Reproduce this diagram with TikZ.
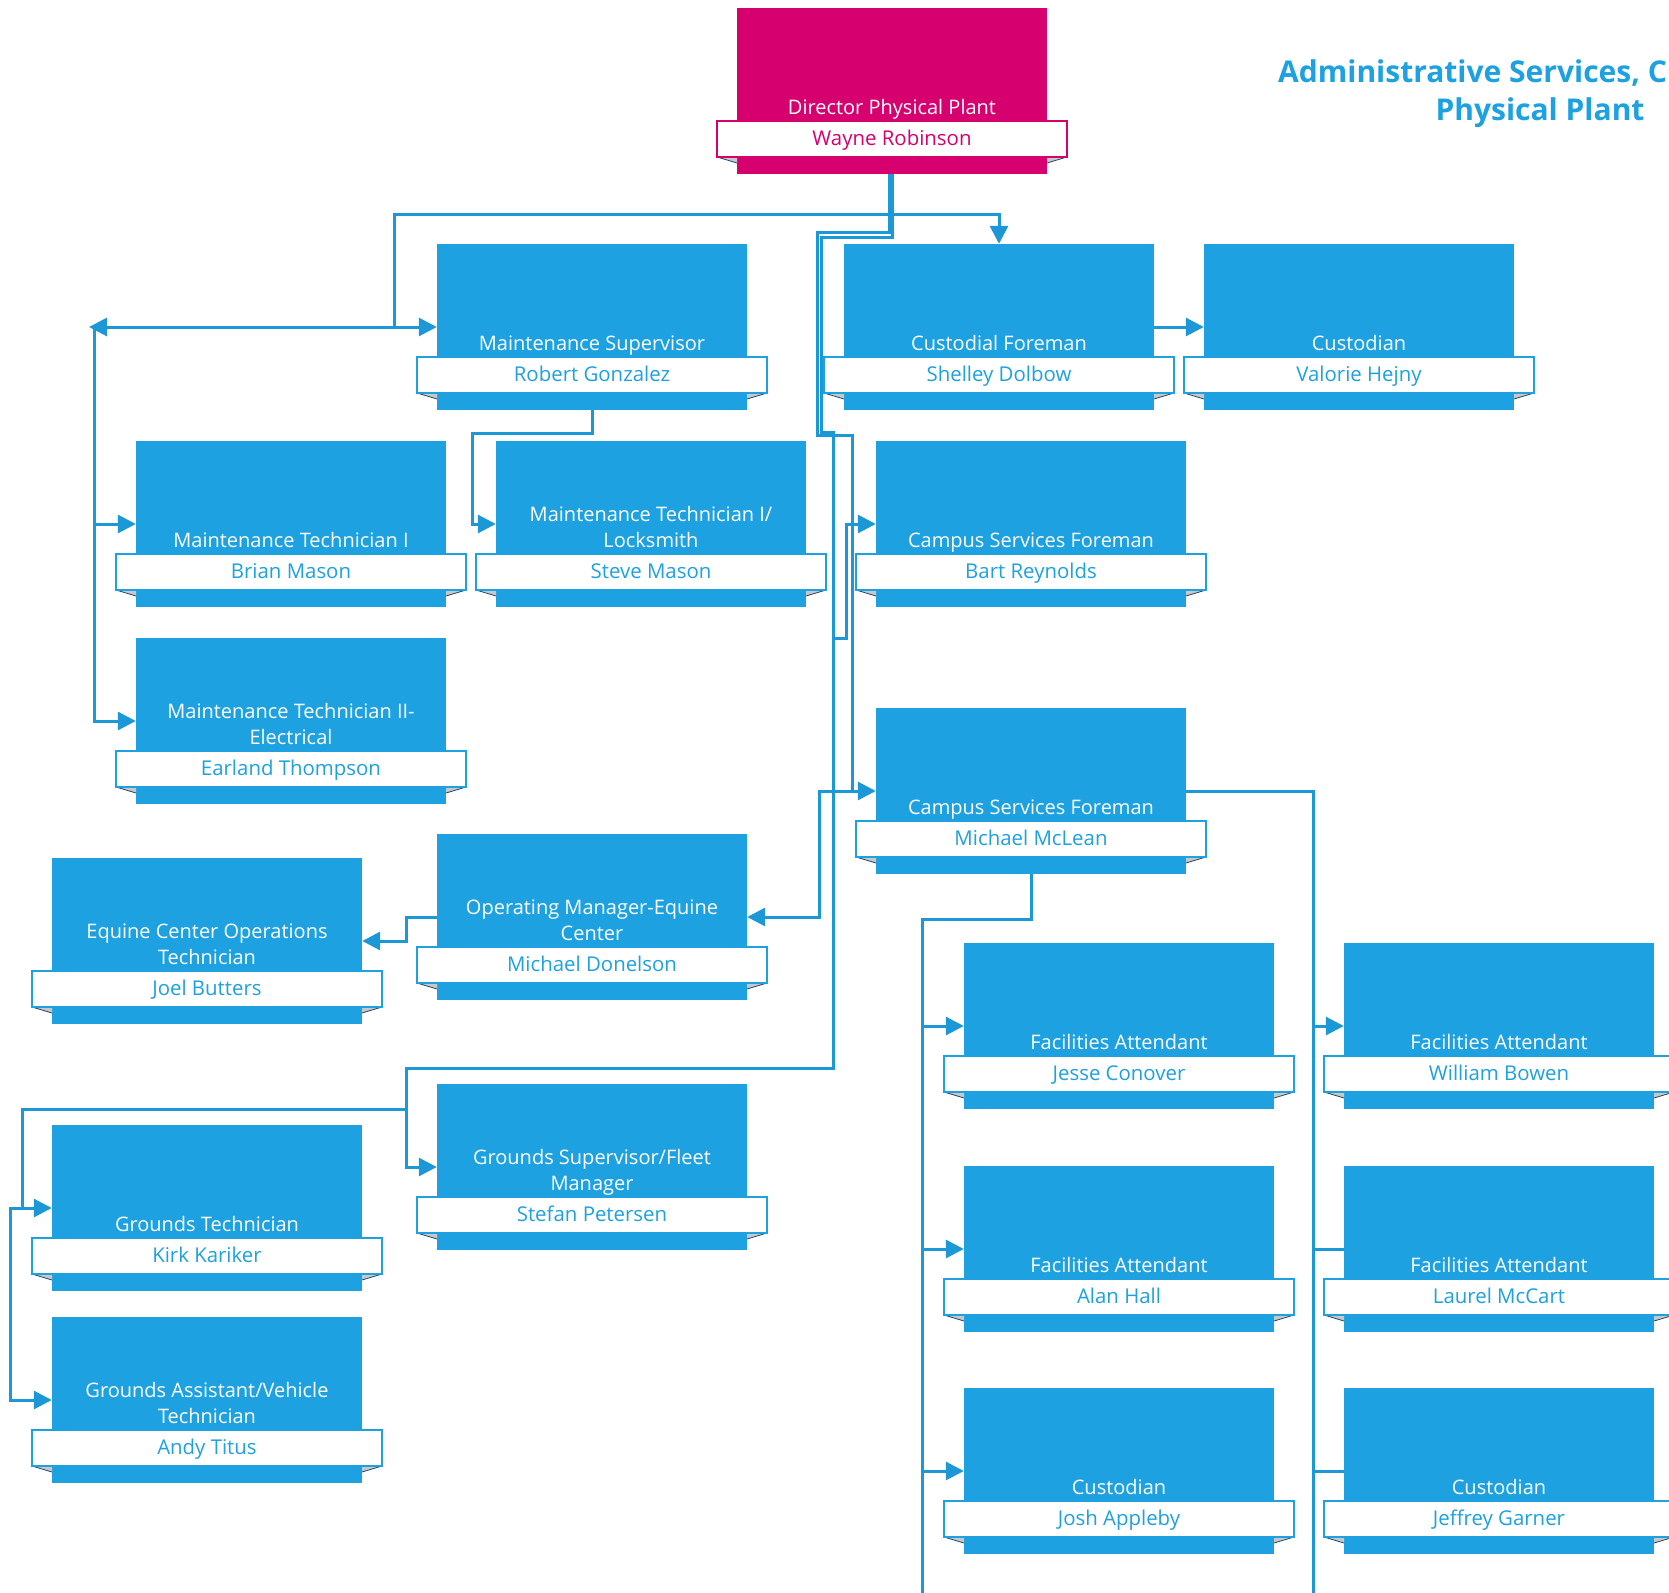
\documentclass[tikz,border=0pt]{standalone}
\usepackage{fontspec}
\setmainfont{Open Sans}
\usepackage{xcolor}
\usepackage{tikz}
\usetikzlibrary{positioning, calc, arrows.meta}
\definecolor{unitblue}{RGB}{29,161,224}
\definecolor{linkblue}{RGB}{28,152,214}
\definecolor{headpink}{RGB}{214,0,111}
\definecolor{foldgray}{RGB}{200,200,200}
\definecolor{foldline}{RGB}{30,70,110}

% one position: coloured block, ribbon with the name, folds under the ribbon
\newcommand{\staffbox}[6]{%
  \node[unit, fill=#6] (#1) at (#2,#3) {};
  \fill[fold] (#2-175,#3+66) -- (#2-155,#3+66) -- (#2-155,#3+72) -- cycle;
  \draw[foldedge] (#2-175,#3+66) -- (#2-155,#3+72);
  \fill[fold] (#2+175,#3+66) -- (#2+155,#3+66) -- (#2+155,#3+72) -- cycle;
  \draw[foldedge] (#2+175,#3+66) -- (#2+155,#3+72);
  \node[band, draw=#6, text=#6] (#1-name) at (#2,#3+48) {#5};
  \node[jobtitle, anchor=south] (#1-title) at (#2,#3+24) {#4};
}

\begin{document}
\begin{tikzpicture}[x=1pt, y=-1pt,
    unit/.style={rectangle, minimum width=310pt, minimum height=166pt, inner sep=0pt},
    band/.style={rectangle, fill=white, line width=1.2pt, minimum width=350pt, minimum height=36pt,
      inner sep=0pt, text height=16pt, text depth=4pt, font=\fontsize{20.4}{24}\selectfont},
    jobtitle/.style={text=white, align=center, inner sep=0pt, text depth=0pt,
      font=\fontsize{20}{26.6}\selectfont},
    heading/.style={text=unitblue, inner sep=0pt, font=\fontsize{30}{36}\bfseries},
    conn/.style={draw=linkblue, line width=3pt},
    arrowed/.style={-{Triangle[length=18pt, width=18pt]}},
    fold/.style={fill=foldgray},
    foldedge/.style={draw=foldline, line width=0.8pt}]
    \useasboundingbox (0,0) rectangle (1669,1592);
    \clip (0,0) rectangle (1669,1592);

    % Title
    \node[heading, anchor=base west] (head1) at (1278,83) {Administrative Services, C};
    \node[heading, anchor=base] (head2) at (1540,121) {Physical Plant};

    % Positions
    \staffbox{dir}{892}{91}{Director Physical Plant}{Wayne Robinson}{headpink}
    \staffbox{ms}{592}{327}{Maintenance Supervisor}{Robert Gonzalez}{unitblue}
    \staffbox{cf}{999}{327}{Custodial Foreman}{Shelley Dolbow}{unitblue}
    \staffbox{cus}{1359}{327}{Custodian}{Valorie Hejny}{unitblue}
    \staffbox{mt1}{291}{524}{Maintenance Technician I}{Brian Mason}{unitblue}
    \staffbox{lock}{651}{524}{Maintenance Technician I/\\Locksmith}{Steve Mason}{unitblue}
    \staffbox{csf1}{1031}{524}{Campus Services Foreman}{Bart Reynolds}{unitblue}
    \staffbox{mt2}{291}{721}{Maintenance Technician II-\\Electrical}{Earland Thompson}{unitblue}
    \staffbox{csf2}{1031}{791}{Campus Services Foreman}{Michael McLean}{unitblue}
    \staffbox{om}{592}{917}{Operating Manager-Equine\\Center}{Michael Donelson}{unitblue}
    \staffbox{eq}{207}{941}{Equine Center Operations\\Technician}{Joel Butters}{unitblue}
    \staffbox{gs}{592}{1167}{Grounds Supervisor/Fleet\\Manager}{Stefan Petersen}{unitblue}
    \staffbox{gt}{207}{1208}{Grounds Technician}{Kirk Kariker}{unitblue}
    \staffbox{ga}{207}{1400}{Grounds Assistant/Vehicle\\Technician}{Andy Titus}{unitblue}
    \staffbox{fa1}{1119}{1026}{Facilities Attendant}{Jesse Conover}{unitblue}
    \staffbox{fa2}{1499}{1026}{Facilities Attendant}{William Bowen}{unitblue}
    \staffbox{fa3}{1119}{1249}{Facilities Attendant}{Alan Hall}{unitblue}
    \staffbox{fa4}{1499}{1249}{Facilities Attendant}{Laurel McCart}{unitblue}
    \staffbox{cu2}{1119}{1471}{Custodian}{Josh Appleby}{unitblue}
    \staffbox{cu3}{1499}{1471}{Custodian}{Jeffrey Garner}{unitblue}

    % Director to supervisors
    \coordinate (jtop) at (892,214);
    \draw[conn, arrowed] (dir.south) -- (jtop) -| (cf.north);
    \draw[conn, arrowed] (jtop) -| (394,327) -- (ms.west);
    \draw[conn, arrowed] (394,327) -- (89,327);
    \draw[conn, arrowed] (94,327) |- (mt1.west);
    \draw[conn, arrowed] (94,524) |- (mt2.west);
    \draw[conn, arrowed] (ms.south) -- (592,433) -| (472,524) -- (lock.west);
    \draw[conn, arrowed] (cf.east) -- (cus.west);

    % Director to campus services, equine and grounds
    \draw[conn, arrowed] (dir.south) -- (892,237) -| (821,432) -| (833,638) -| (846,524) -- (csf1.west);
    \draw[conn, arrowed] ([xshift=-3pt]dir.south) -- (889,232) -| (817,435) -| (852,791) -- (csf2.west);
    \draw[conn, arrowed] (852,791) -| (819,917) -- (om.east);
    \draw[conn, arrowed] (om.west) -| (406,941) -- (eq.east);
    \draw[conn, arrowed] (833,638) |- (406,1068) |- (gs.west);
    \draw[conn, arrowed] (406,1109) -| (22,1208) -- (gt.west);
    \draw[conn, arrowed] (22,1208) -| (10,1400) -- (ga.west);

    % Campus services foreman to attendants
    \coordinate (mcl) at (922,919);
    \coordinate (mcr) at (1313,791);
    \draw[conn] (csf2.south) -- (1031,919) -- (mcl) -- (922,1600);
    \draw[conn] (csf2.east) -- (mcr) -- (1313,1600);
    \foreach \n in {fa1, fa3, cu2}
        \draw[conn, arrowed] (mcl |- \n.west) -- (\n.west);
    \draw[conn, arrowed] (mcr |- fa2.west) -- (fa2.west);
    \draw[conn] (mcr |- fa4.west) -- (fa4.west);
    \draw[conn] (mcr |- cu3.west) -- (cu3.west);
\end{tikzpicture}
\end{document}
